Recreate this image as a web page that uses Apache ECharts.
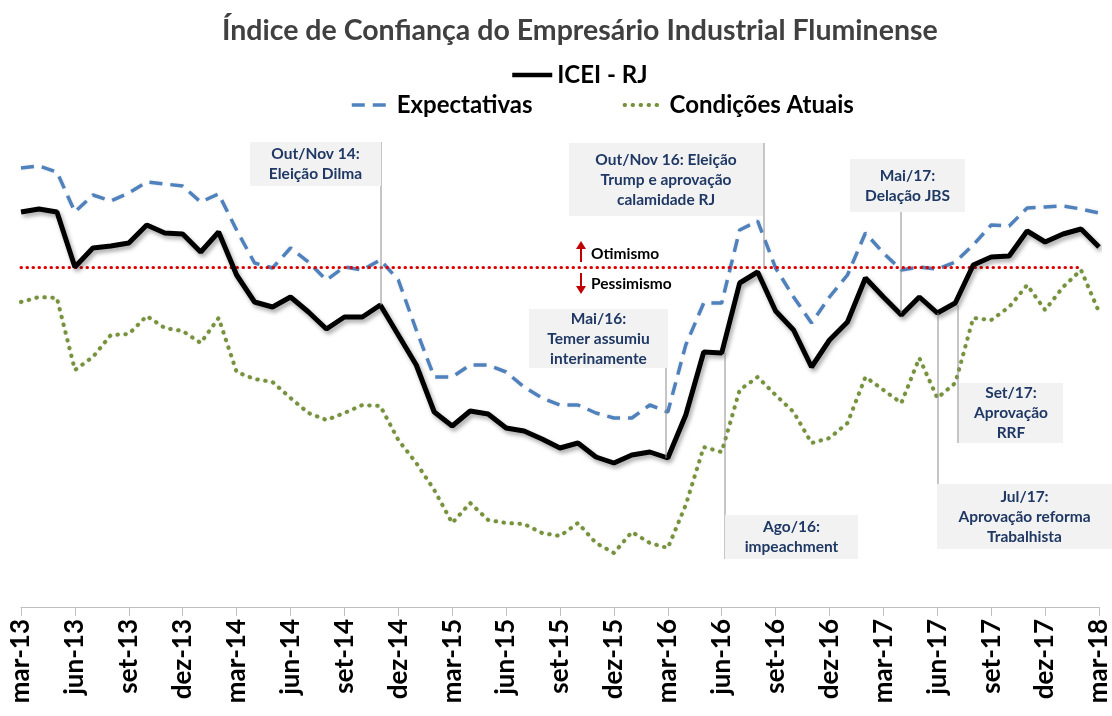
<!DOCTYPE html>
<html>
<head>
<meta charset="utf-8">
<script src="https://cdn.jsdelivr.net/npm/echarts@6/dist/echarts.min.js"></script>
<style>
  html, body { margin: 0; padding: 0; background: #fff; }
  #chart { width: 1112px; height: 716px; }
</style>
</head>
<body>
<div id="chart"></div>
<script>
// meses de mar-13 a mar-18
var months = ['mar-13','abr-13','mai-13','jun-13','jul-13','ago-13','set-13','out-13','nov-13','dez-13',
  'jan-14','fev-14','mar-14','abr-14','mai-14','jun-14','jul-14','ago-14','set-14','out-14','nov-14','dez-14',
  'jan-15','fev-15','mar-15','abr-15','mai-15','jun-15','jul-15','ago-15','set-15','out-15','nov-15','dez-15',
  'jan-16','fev-16','mar-16','abr-16','mai-16','jun-16','jul-16','ago-16','set-16','out-16','nov-16','dez-16',
  'jan-17','fev-17','mar-17','abr-17','mai-17','jun-17','jul-17','ago-17','set-17','out-17','nov-17','dez-17',
  'jan-18','fev-18','mar-18'];

var icei = [55.5,55.8,55.5,50.0,51.9,52.1,52.4,54.2,53.4,53.3,51.5,53.5,49.2,46.5,46.0,47.0,45.5,43.8,45.0,45.0,
  46.2,43.2,40.2,35.5,34.1,35.6,35.3,33.9,33.6,32.8,31.9,32.4,31.0,30.4,31.2,31.5,30.9,35.2,41.5,41.4,
  48.4,49.5,45.6,43.7,40.0,42.7,44.5,48.9,47.0,45.2,47.0,45.4,46.4,50.2,51.0,51.1,53.6,52.5,53.3,53.8,52.0];

var expectativas = [59.9,60.1,59.5,55.5,57.2,56.6,57.4,58.5,58.3,58.1,56.5,57.3,53.7,50.4,49.9,51.9,50.5,48.7,50.0,49.7,
  50.7,48.7,43.7,39.0,39.0,40.2,40.2,39.5,38.0,36.9,36.2,36.2,35.4,34.9,34.9,36.2,35.5,42.2,46.4,46.4,
  53.7,54.6,49.9,47.0,44.4,47.0,49.2,53.4,51.4,49.7,50.0,49.8,50.5,52.2,54.2,54.1,55.9,56.0,56.1,55.8,55.4];

var condicoes = [46.5,47.0,46.9,39.7,41.0,43.2,43.3,45.1,43.9,43.6,42.4,44.9,39.5,38.8,38.5,36.9,35.4,34.7,35.4,36.2,
  36.1,32.7,30.4,27.7,24.4,26.4,24.7,24.4,24.3,23.4,23.1,24.4,22.4,21.4,23.5,22.4,21.9,26.2,32.0,31.5,
  37.7,39.0,37.2,35.5,32.4,32.9,34.4,39.0,37.7,36.4,40.9,36.9,38.4,44.9,44.7,46.0,48.2,45.7,48.0,49.7,45.5];

var linhaNeutra = 50;

var FONT = 'Lato, "Open Sans", sans-serif';
var NAVY = '#1f3864';

// caixas de anotação: posição em pixels
var notas = [
  { txt: 'Out/Nov 14:\nEleição Dilma', box: [250, 142, 131, 44], lead: [381, 142, 305] },
  { txt: 'Out/Nov 16: Eleição\nTrump e aprovação\ncalamidade RJ', box: [569, 143, 194, 73], lead: [764, 143, 268] },
  { txt: 'Mai/17:\nDelação JBS', box: [850, 159, 115, 53], lead: [901, 212, 313] },
  { txt: 'Mai/16:\nTemer assumiu\ninterinamente', box: [529, 309, 139, 59], lead: [666, 309, 458] },
  { txt: 'Ago/16:\nimpeachment', box: [725, 515, 133, 44], lead: [725, 353, 559] },
  { txt: 'Jul/17:\nAprovação reforma\nTrabalhista', box: [937, 484, 175, 65], lead: [938, 313, 484] },
  { txt: 'Set/17:\nAprovação\nRRF', box: [959, 383, 104, 60], lead: [958, 305, 443] }
];

var graficos = [];
notas.forEach(function (n) {
  graficos.push({
    type: 'line', silent: true, z: 90,
    shape: { x1: n.lead[0], y1: n.lead[1], x2: n.lead[0], y2: n.lead[2] },
    style: { stroke: '#8c8c8c', lineWidth: 1 }
  });
  graficos.push({
    type: 'rect', silent: true, z: 91,
    shape: { x: n.box[0], y: n.box[1], width: n.box[2], height: n.box[3] },
    style: { fill: '#f2f2f2' }
  });
  graficos.push({
    type: 'text', silent: true, z: 92,
    x: n.box[0] + n.box[2] / 2, y: n.box[1] + n.box[3] / 2,
    style: {
      text: n.txt, fill: NAVY, font: 'bold 15.5px ' + FONT,
      align: 'center', verticalAlign: 'middle', lineHeight: 20
    }
  });
});

// setas otimismo / pessimismo
graficos.push(
  { type: 'line', silent: true, z: 95, shape: { x1: 581, y1: 248, x2: 581, y2: 262 }, style: { stroke: '#c00000', lineWidth: 2 } },
  { type: 'polygon', silent: true, z: 95, shape: { points: [[576, 249], [586, 249], [581, 241]] }, style: { fill: '#c00000' } },
  { type: 'line', silent: true, z: 95, shape: { x1: 581, y1: 273, x2: 581, y2: 287 }, style: { stroke: '#c00000', lineWidth: 2 } },
  { type: 'polygon', silent: true, z: 95, shape: { points: [[576, 286], [586, 286], [581, 294]] }, style: { fill: '#c00000' } },
  { type: 'text', silent: true, z: 95, x: 591, y: 254, style: { text: 'Otimismo', fill: '#000', font: 'bold 15.5px ' + FONT, verticalAlign: 'middle' } },
  { type: 'text', silent: true, z: 95, x: 591, y: 284, style: { text: 'Pessimismo', fill: '#000', font: 'bold 15.5px ' + FONT, verticalAlign: 'middle' } }
);

var chart = echarts.init(document.getElementById('chart'));
chart.setOption({
  animation: false,
  textStyle: { fontFamily: FONT },
  title: {
    text: 'Índice de Confiança do Empresário Industrial Fluminense',
    left: 217, top: 11,
    textStyle: { color: '#404040', fontSize: 28.5, fontWeight: 'bold', fontFamily: FONT }
  },
  legend: [
    {
      data: [{ name: 'ICEI - RJ', lineStyle: { width: 4.5 } }],
      top: 58, left: 505,
      itemWidth: 40, itemHeight: 14,
      itemStyle: { opacity: 0 },
      textStyle: { color: '#000', fontSize: 24, fontWeight: 'bold' }
    },
    {
      data: [
        { name: 'Expectativas', lineStyle: { width: 3.5 } },
        { name: 'Condições Atuais', lineStyle: { width: 4 } }
      ],
      top: 88, left: 345,
      itemWidth: 40, itemHeight: 14, itemGap: 90,
      itemStyle: { opacity: 0 },
      textStyle: { color: '#000', fontSize: 24, fontWeight: 'bold' }
    }
  ],
  grid: { left: 21, right: 11, top: 127, bottom: 109 },
  xAxis: {
    type: 'category',
    data: months,
    boundaryGap: false,
    axisLine: { lineStyle: { color: '#bfbfbf', width: 1 } },
    axisTick: { interval: 2, length: 9, lineStyle: { color: '#bfbfbf' } },
    axisLabel: {
      interval: 2, rotate: 90, margin: 12,
      color: '#000', fontSize: 26, fontWeight: 'bold'
    },
    splitLine: { show: false }
  },
  yAxis: {
    type: 'value', min: 16, max: 64,
    show: false, splitLine: { show: false }
  },
  graphic: graficos,
  series: [
    {
      name: 'Condições Atuais', type: 'line', data: condicoes,
      symbol: 'none', z: 3,
      lineStyle: { color: '#76933c', width: 4, type: [0.5, 7.5], cap: 'round',
        shadowColor: 'rgba(0,0,0,0.12)', shadowBlur: 3 },
      itemStyle: { color: '#76933c' }
    },
    {
      name: 'Expectativas', type: 'line', data: expectativas,
      symbol: 'none', z: 4,
      lineStyle: { color: '#4f81bd', width: 3.5, type: [13, 8],
        shadowColor: 'rgba(0,0,0,0.12)', shadowBlur: 3 },
      itemStyle: { color: '#4f81bd' }
    },
    {
      name: 'ICEI - RJ', type: 'line', data: icei,
      symbol: 'none', z: 5,
      lineStyle: { color: '#000', width: 5,
        shadowColor: 'rgba(0,0,0,0.35)', shadowBlur: 4, shadowOffsetX: 2, shadowOffsetY: 3 },
      itemStyle: { color: '#000' },
      markLine: {
        silent: true, symbol: 'none', label: { show: false },
        lineStyle: { color: '#e00000', width: 3, type: [0.5, 5.5], cap: 'round', shadowBlur: 0 },
        data: [[{ coord: [0, linhaNeutra] }, { coord: [59, linhaNeutra] }]]
      }
    }
  ]
});
</script>
</body>
</html>
